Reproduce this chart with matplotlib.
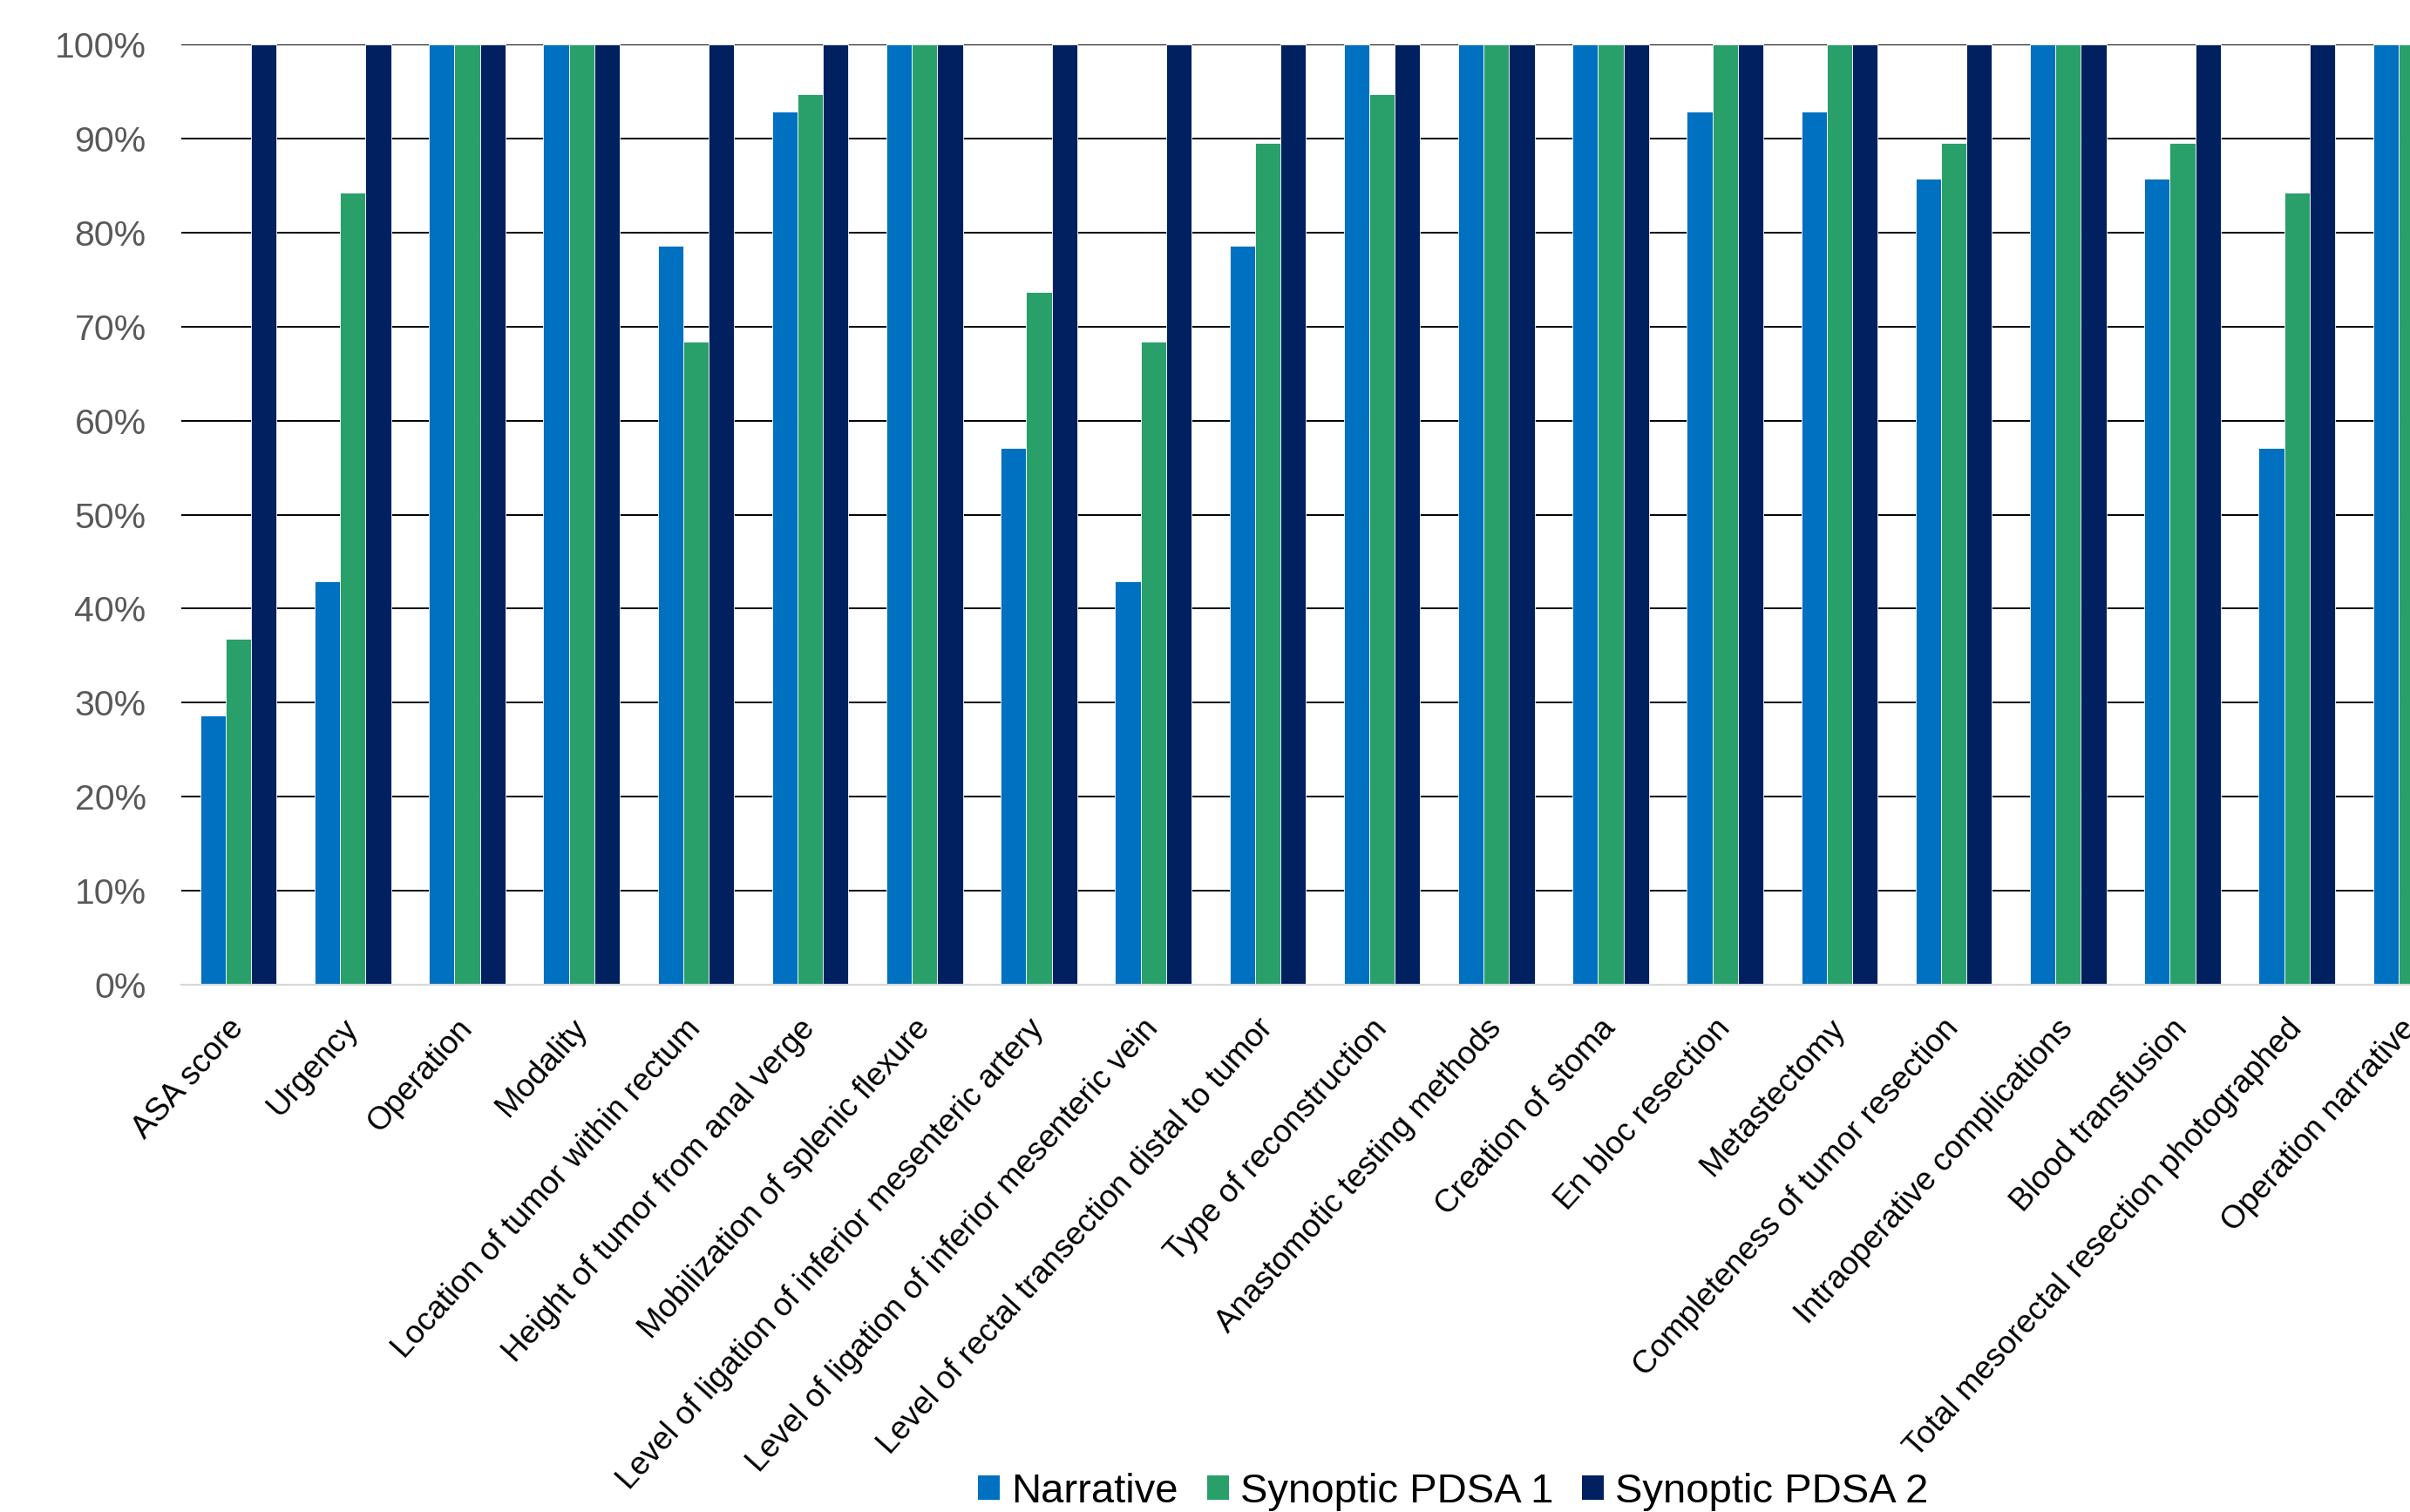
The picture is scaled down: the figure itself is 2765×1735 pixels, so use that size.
import matplotlib
matplotlib.use("Agg")
import matplotlib.pyplot as plt
from matplotlib.patches import Patch
from matplotlib.ticker import FuncFormatter, MultipleLocator
import numpy as np

plt.rcParams['font.family'] = ['Liberation Sans', 'DejaVu Sans']

categories = [
    "ASA score", "Urgency", "Operation", "Modality",
    "Location of tumor within rectum", "Height of tumor from anal verge",
    "Mobilization of splenic flexure",
    "Level of ligation of inferior mesenteric artery",
    "Level of ligation of inferior mesenteric vein",
    "Level of rectal transection distal to tumor",
    "Type of reconstruction", "Anastomotic testing methods",
    "Creation of stoma", "En bloc resection", "Metastectomy",
    "Completeness of tumor resection", "Intraoperative complications",
    "Blood transfusion", "Total mesorectal resection photographed",
    "Operation narrative",
]
narrative = [28.6, 42.9, 100, 100, 78.6, 92.9, 100, 57.1, 42.9, 78.6,
             100, 100, 100, 92.9, 92.9, 85.7, 100, 85.7, 57.1, 100]
pdsa1 = [36.8, 84.2, 100, 100, 68.4, 94.7, 100, 73.7, 68.4, 89.5,
         94.7, 100, 100, 100, 100, 89.5, 100, 89.5, 84.2, 100]
pdsa2 = [100, 100, 100, 100, 100, 100, 100, 100, 100, 100,
         100, 100, 100, 100, 100, 100, 100, 100, 100, 100]
series_names = ["Narrative", "Synoptic PDSA 1", "Synoptic PDSA 2"]
colors = ["#0070C0", "#29A06A", "#002060"]

W, H = 2765, 1735
fig = plt.figure(figsize=(W / 100, H / 100), dpi=100)
left, right_px, top, bottom = 208, 208 + 20 * 131.2, 51, 1130
ax = fig.add_axes([left / W, 1 - bottom / H, (right_px - left) / W, (bottom - top) / H])

x = np.arange(len(categories))
bw = 1 / 4.5
for j, (vals, c, name) in enumerate(zip([narrative, pdsa1, pdsa2], colors, series_names)):
    ax.bar(x + (j - 1) * bw, vals, width=bw, color=c, edgecolor='white',
           linewidth=0.6, zorder=3, label=name)

ax.set_xlim(-0.5, len(categories) - 0.5)
ax.set_ylim(0, 100)
ax.yaxis.set_major_locator(MultipleLocator(10))
ax.yaxis.set_major_formatter(FuncFormatter(lambda v, p: f"{int(round(v))}%"))
ax.grid(axis='y', color='#000000', linewidth=1.4, zorder=0)
ax.set_axisbelow(True)

for s in ['top', 'right', 'left']:
    ax.spines[s].set_visible(False)
ax.spines['bottom'].set_color('#D9D9D9')
ax.spines['bottom'].set_linewidth(1.6)
ax.spines['bottom'].set_zorder(4)

ax.tick_params(axis='y', length=0, pad=29, labelsize=29.5, labelcolor='#595959')
ax.tick_params(axis='x', length=0, pad=32)
ax.set_xticks(x)
ax.set_xticklabels(categories, rotation=48, ha='right', va='center',
                   rotation_mode='anchor', fontsize=26.5, color='black')

handles = [Patch(facecolor=c, edgecolor='none') for c in colors]
fig.legend(handles, series_names, loc='center', bbox_to_anchor=(0.603, 0.0135),
           ncol=3, frameon=False, fontsize=34, handlelength=0.53, handleheight=0.53,
           handletextpad=0.28, columnspacing=0.7, borderpad=0, borderaxespad=0)

fig.savefig("out.png", dpi=100)
